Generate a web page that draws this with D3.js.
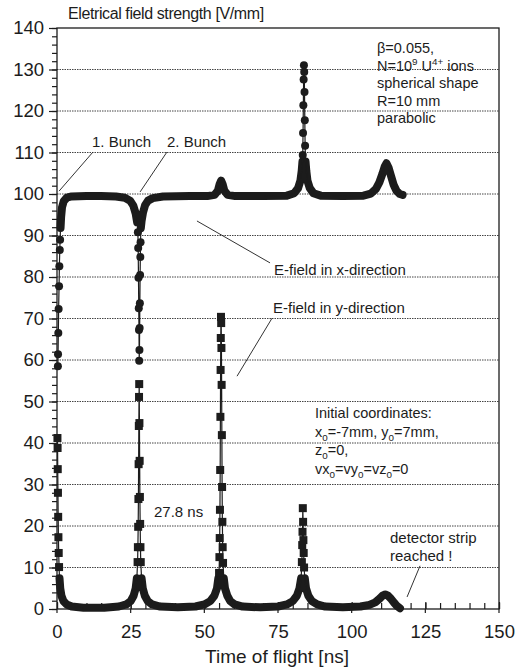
<!DOCTYPE html>
<html>
<head>
<meta charset="utf-8">
<script src="https://cdn.jsdelivr.net/npm/d3@7"></script>
<style>
  body { margin: 0; background: #fff; }
  svg { display: block; font-family: "Liberation Sans", Arial, sans-serif; }
</style>
</head>
<body>
<div id="chart"></div>
<script>
// DATA.
const yTicks = [0, 10, 20, 30, 40, 50, 60, 70, 80, 90, 100, 110, 120, 130, 140];
const yMinor = d3.range(0, 141, 2);
const xTicks = [0, 25, 50, 75, 100, 125, 150];
const xMinor = d3.range(0, 151, 5);
const gridValues = [10, 20, 30, 40, 50, 60, 70, 80, 90, 100, 110, 120, 130];

// E-field in x-direction (circles), [time ns, V/mm]
const xFieldPts = [
  [0.3, 58.5], [0.35, 61.4], [0.45, 66.5], [0.55, 72.3], [0.7, 77.8], [0.8, 82.6],
  [0.95, 86.5], [1.05, 89], [1.2, 91.8], [1.4, 94.5], [1.7, 96.8], [2.3, 98.3],
  [3.3, 99.1], [5, 99.4], [10, 99.5], [15, 99.5], [20, 99.4], [23, 99.1],
  [24.8, 98.4], [25.9, 97.2], [26.7, 95.3], [27.2, 93.2],
  [27.45, 90.8], [27.55, 87], [27.65, 79.8], [27.75, 72.5], [27.82, 67.2], [27.9, 59.8],
  [27.98, 62.4], [28.05, 67.7], [28.12, 73.7], [28.2, 80.5], [28.28, 84.8], [28.36, 88.4],
  [28.45, 91.8], [28.7, 93.5], [29.2, 95.6], [29.9, 97.3], [30.9, 98.4], [32.5, 99],
  [36, 99.4], [45, 99.5], [51, 99.5], [53.5, 99.8], [54.6, 100.8], [55.2, 102.4],
  [55.7, 103.2], [56.2, 102.4], [56.8, 100.8], [57.9, 99.8], [60.5, 99.5], [70, 99.5],
  [78, 99.6], [80.5, 100.2], [81.8, 101.4], [82.6, 103.2], [83.05, 105.6], [83.3, 107.8],
  [83.4, 109.4], [83.5, 114.7], [83.6, 121.4], [83.7, 127.6], [83.8, 131],
  [83.9, 129.4], [84.0, 124.6], [84.1, 117.8], [84.2, 111.6], [84.35, 107.8],
  [84.6, 105.6], [85.0, 103.2], [85.8, 101.4], [87, 100.2], [89.5, 99.6], [97, 99.5],
  [104, 99.6], [106.5, 100.1], [108.2, 101.2], [109.4, 102.8], [110.4, 104.8],
  [111.2, 106.6], [111.8, 107.4], [112.5, 106.4], [113.3, 104.5], [114.2, 102.3],
  [115.2, 100.8], [116.3, 100], [117.3, 99.8]
];

// E-field in y-direction (squares), [time ns, V/mm]
const yFieldPts = [
  [0.15, 41.2], [0.2, 38.8], [0.25, 33.7], [0.32, 28], [0.4, 22.2], [0.48, 17.3],
  [0.58, 13.5], [0.7, 10.1], [0.85, 7.4], [1.1, 5], [1.5, 3.2], [2.2, 1.9], [3.3, 1.1],
  [5, 0.6], [9, 0.3], [16, 0.3], [21, 0.6], [23.5, 1.1], [25, 1.9], [26, 3.2],
  [26.7, 5], [27.1, 7.4],
  [27.35, 11.3], [27.45, 14.9], [27.55, 19.8], [27.63, 26.5], [27.7, 34.9], [27.77, 44.1],
  [27.84, 51.1], [27.9, 54.2],
  [27.97, 44.8], [28.05, 35.7], [28.13, 27], [28.22, 20.5], [28.32, 14.9], [28.42, 11.3],
  [28.7, 7.4], [29.1, 5], [29.8, 3.2], [30.8, 1.9], [32.3, 1.1], [35, 0.6], [41, 0.4],
  [47, 0.6], [50, 1.1], [52, 1.9], [53.4, 3.2], [54.3, 5], [54.75, 7.4],
  [55.0, 8.7], [55.12, 12.5], [55.22, 17.1], [55.3, 23.9], [55.38, 33.5], [55.45, 46.3],
  [55.52, 57.6], [55.58, 65.3], [55.65, 70.4],
  [55.72, 68.9], [55.8, 62.9], [55.87, 54], [55.95, 41.9], [56.03, 29.4], [56.12, 21],
  [56.22, 14.9], [56.35, 11.1], [56.6, 7.4], [57, 5], [57.8, 3.2], [58.8, 1.9],
  [60.3, 1.1], [63, 0.6], [69, 0.4], [75, 0.6], [78, 1.1], [80, 1.9], [81.4, 3.2],
  [82.3, 5], [82.85, 7.4],
  [83.1, 11.3], [83.22, 15.4], [83.32, 18.6], [83.42, 24.3],
  [83.52, 21], [83.62, 16.6], [83.72, 13.5], [83.85, 10], [84.1, 7.4], [84.5, 5],
  [85.3, 3.2], [86.5, 1.9], [88.3, 1.1], [91, 0.6], [97, 0.4], [103, 0.6], [106, 1],
  [108, 1.6], [109.5, 2.5], [110.5, 3.2], [111.4, 3.5], [112.3, 3.2], [113.3, 2.5],
  [114.4, 1.5], [115.4, 0.7], [116.4, 0.2]
];

// LAYOUT.
const width = 522, height = 671;
const plotLeft = 57, plotRight = 499, plotTop = 28, plotBottom = 609;
const ink = "#1c1c1c";

const x = d3.scaleLinear().domain([0, 150]).range([plotLeft, plotRight]);
const y = d3.scaleLinear().domain([0, 140]).range([plotBottom, plotTop]);

const svg = d3.select("#chart").append("svg")
  .attr("width", width)
  .attr("height", height);

// grid
svg.append("g").selectAll("line")
  .data(gridValues).enter()
  .append("line")
  .attr("x1", plotLeft).attr("x2", plotRight)
  .attr("y1", d => y(d)).attr("y2", d => y(d))
  .attr("stroke", "#444")
  .attr("stroke-width", 1)
  .attr("stroke-dasharray", "1.5,1");

// frame
svg.append("rect")
  .attr("x", plotLeft).attr("y", plotTop)
  .attr("width", plotRight - plotLeft).attr("height", plotBottom - plotTop)
  .attr("fill", "none").attr("stroke", ink).attr("stroke-width", 1.3);

// axes
function styleAxis(g) {
  g.select(".domain").remove();
  g.selectAll("line").attr("stroke", ink).attr("stroke-width", 1.2);
  g.selectAll("text").attr("fill", ink).attr("font-size", 18.5)
    .attr("font-family", "Liberation Sans, Arial, sans-serif");
}

svg.append("g").attr("transform", `translate(${plotLeft},0)`)
  .call(d3.axisLeft(y).tickValues(yMinor).tickSize(5).tickFormat(""))
  .call(styleAxis);
svg.append("g").attr("transform", `translate(${plotLeft},0)`)
  .call(d3.axisLeft(y).tickValues(yTicks).tickSize(8).tickPadding(5).tickFormat(d3.format("d")))
  .call(styleAxis);

svg.append("g").attr("transform", `translate(0,${plotBottom})`)
  .call(d3.axisBottom(x).tickValues(xMinor).tickSize(-6).tickFormat(""))
  .call(styleAxis);
svg.append("g").attr("transform", `translate(0,${plotBottom})`)
  .call(d3.axisBottom(x).tickValues(xTicks).tickSizeInner(-7).tickSizeOuter(0).tickPadding(16).tickFormat(d3.format("d")))
  .call(styleAxis);
svg.append("g").selectAll("line")
  .data(xTicks).enter()
  .append("line")
  .attr("x1", d => x(d)).attr("x2", d => x(d))
  .attr("y1", plotBottom).attr("y2", plotBottom + 4)
  .attr("stroke", ink).attr("stroke-width", 1.2);

// SERIES.
function drawSeries(pts, nearBase, marker) {
  const g = svg.append("g");
  const line = d3.line().x(d => x(d[0])).y(d => y(d[1]));
  // dense sampling near the baseline shows as a thick band
  g.append("path")
    .datum(pts)
    .attr("d", line.defined(nearBase))
    .attr("fill", "none").attr("stroke", ink)
    .attr("stroke-width", 8)
    .attr("stroke-linejoin", "round").attr("stroke-linecap", "round");
  g.append("path")
    .datum(pts)
    .attr("d", d3.line().x(d => x(d[0])).y(d => y(d[1])))
    .attr("fill", "none").attr("stroke", ink).attr("stroke-width", 1.2);
  const sparse = pts.filter(d => !nearBase(d));
  if (marker === "circle") {
    g.selectAll("circle").data(sparse).enter()
      .append("circle")
      .attr("cx", d => x(d[0])).attr("cy", d => y(d[1]))
      .attr("r", 4).attr("fill", ink);
  } else {
    g.selectAll("rect").data(sparse).enter()
      .append("rect")
      .attr("x", d => x(d[0]) - 4).attr("y", d => y(d[1]) - 4)
      .attr("width", 8).attr("height", 8).attr("fill", ink);
  }
}

drawSeries(xFieldPts, d => Math.abs(d[1] - 100) <= 9, "circle");
drawSeries(yFieldPts, d => d[1] <= 8, "square");

// TEXTS.
function richText(px, py, parts, size) {
  const t = svg.append("text")
    .attr("x", px).attr("y", py)
    .attr("font-size", size).attr("fill", ink);
  let shift = 0;
  parts.forEach(p => {
    const kind = typeof p === "string" ? null : p[1];
    const txt = typeof p === "string" ? p : p[0];
    let target = 0;
    if (kind === "sub") target = 4;
    if (kind === "sup") target = -6;
    const s = t.append("tspan").text(txt).attr("dy", target - shift);
    if (kind) s.attr("font-size", size * 0.68);
    shift = target;
  });
  return t;
}

function leader(t1, v1, t2, v2) {
  svg.append("line")
    .attr("x1", x(t1)).attr("y1", y(v1))
    .attr("x2", x(t2)).attr("y2", y(v2))
    .attr("stroke", ink).attr("stroke-width", 0.9);
}

richText(68, 19, ["Eletrical field strength [V/mm]"], 16).attr("letter-spacing", -0.4);

richText(x(0) + 220, 663, ["Time of flight [ns]"], 19).attr("text-anchor", "middle");

const infoLines = [
  ["β=0.055,"],
  ["N=10", ["9", "sup"], " U", ["4+", "sup"], " ions"],
  ["spherical shape"],
  ["R=10 mm"],
  ["parabolic"]
];
infoLines.forEach((l, i) => richText(377, 53 + i * 17.6, l, 14.5));

richText(92, 147, ["1. Bunch"], 15);
richText(167, 147, ["2. Bunch"], 15);
leader(12.2, 110.1, 0.7, 100.7);
leader(37.3, 110.1, 28.2, 100.5);

richText(274, 275, ["E-field in x-direction"], 15);
leader(47.5, 93.5, 72.3, 83.4);
richText(273, 313, ["E-field in y-direction"], 15);
leader(73, 70.1, 61.1, 56.1);

richText(154, 517, ["27.8 ns"], 15);

const initLines = [
  ["Initial coordinates:"],
  ["x", ["0", "sub"], "=-7mm, y", ["0", "sub"], "=7mm,"],
  ["z", ["0", "sub"], "=0,"],
  ["vx", ["0", "sub"], "=vy", ["0", "sub"], "=vz", ["0", "sub"], "=0"]
];
initLines.forEach((l, i) => richText(315, 418 + i * 18.5, l, 14.5));

richText(390, 543, ["detector strip"], 15);
richText(390, 561, ["reached !"], 15);
leader(123.2, 10.4, 118.8, 2.9);
</script>
</body>
</html>
